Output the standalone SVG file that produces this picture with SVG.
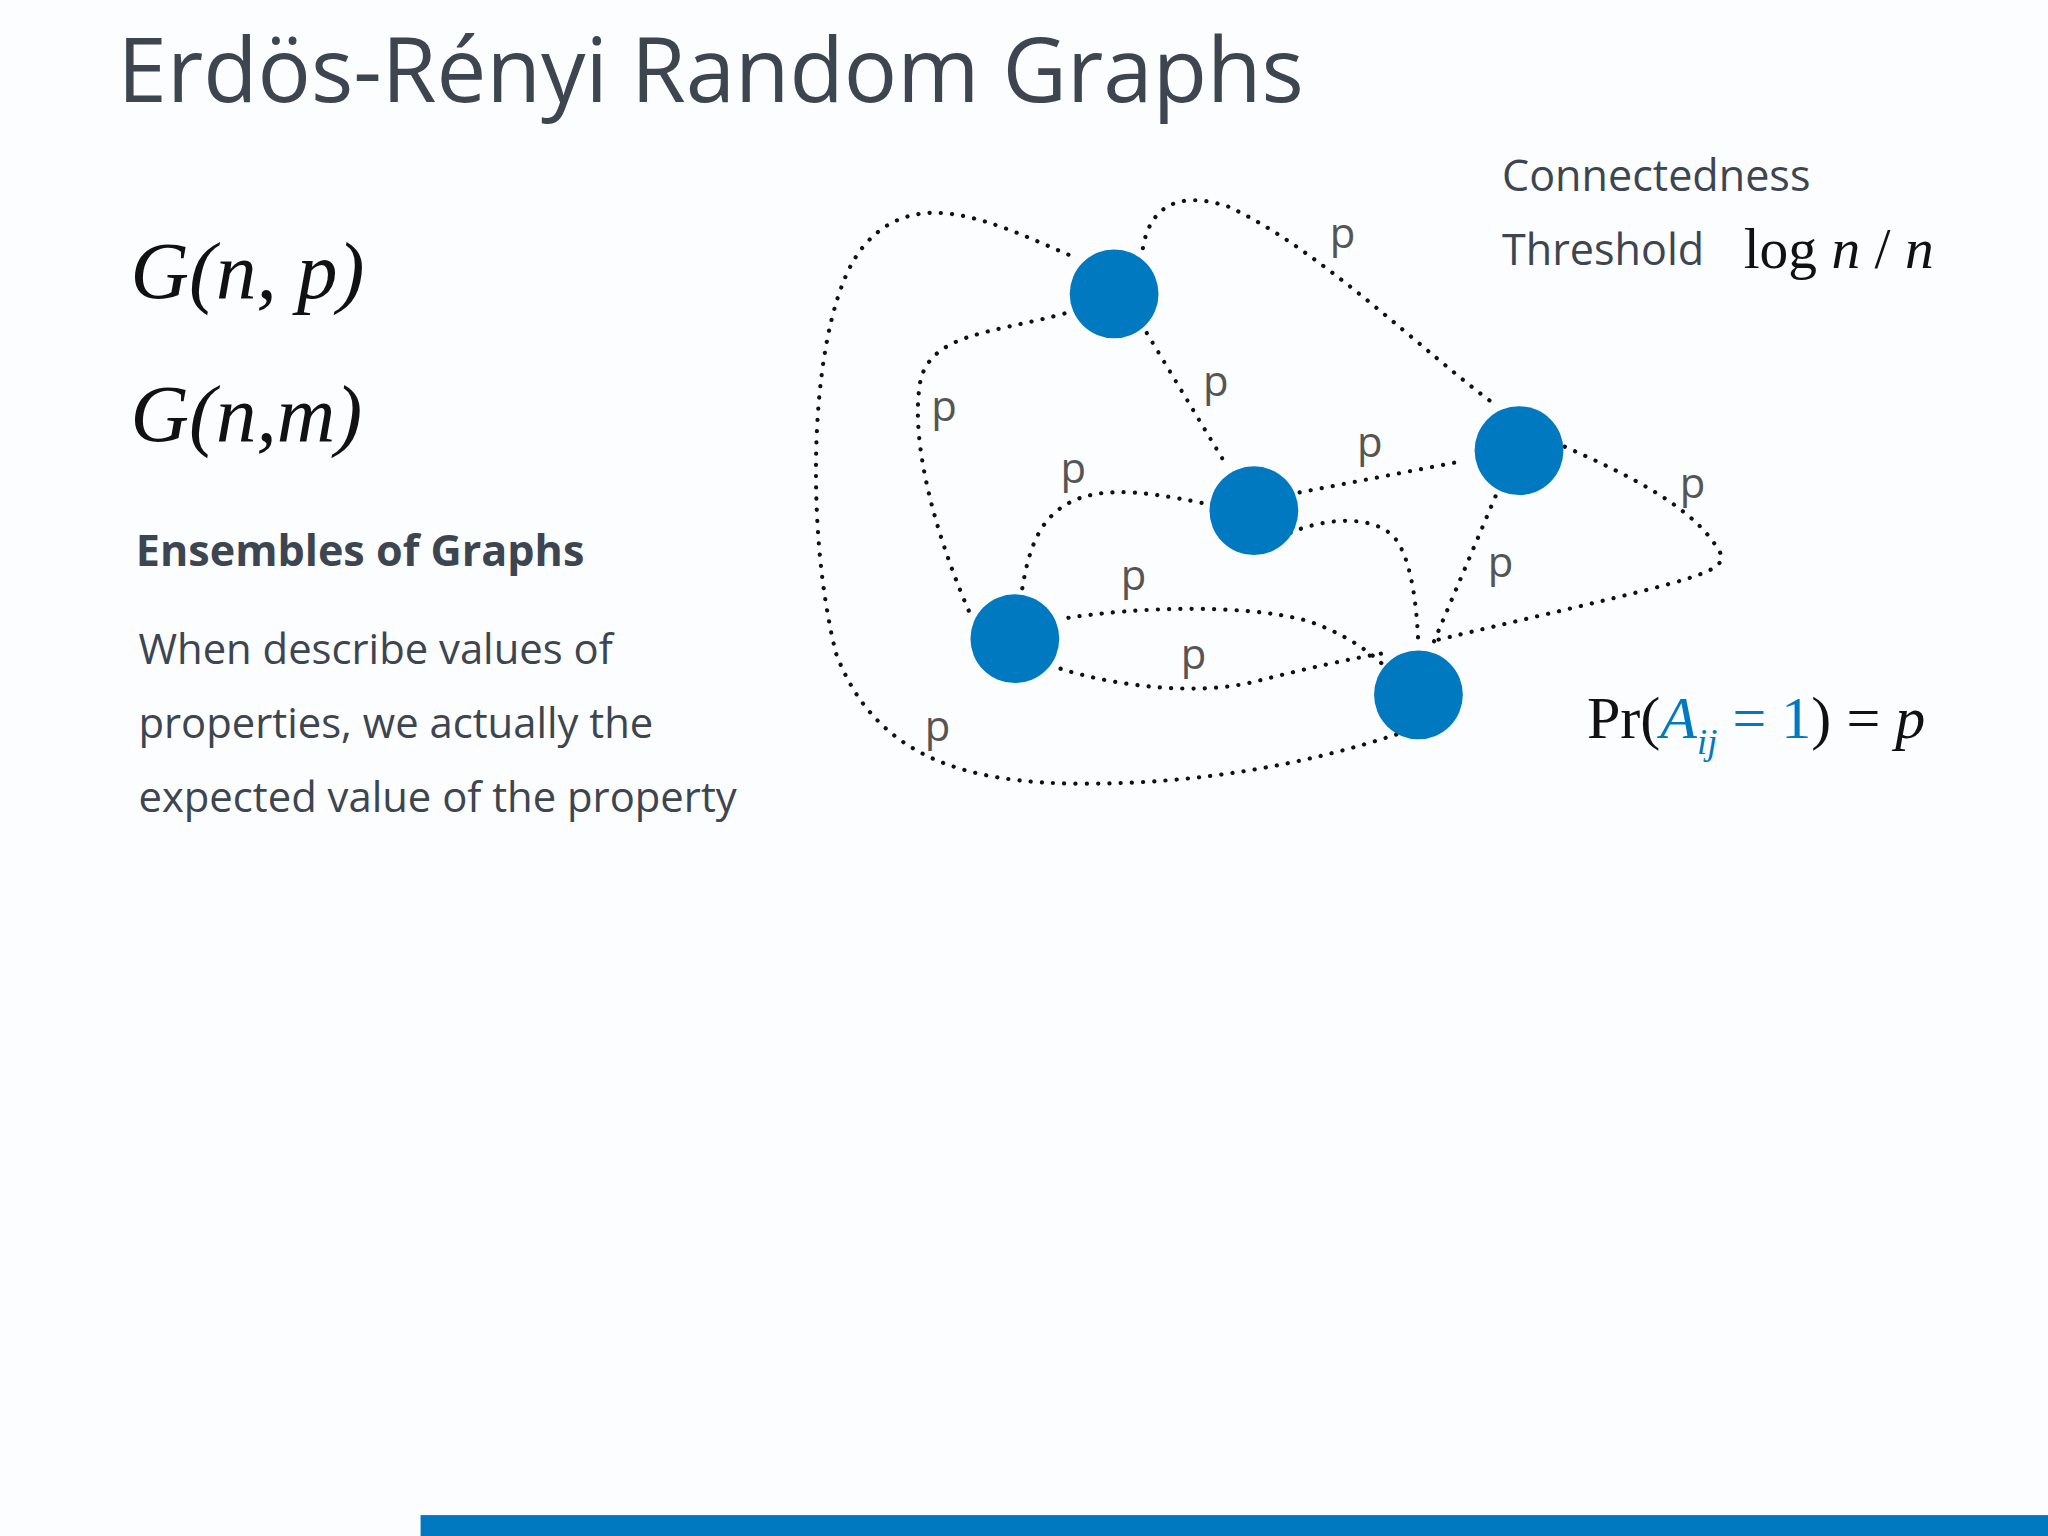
<svg xmlns="http://www.w3.org/2000/svg" width="2048" height="1536" viewBox="0 0 2048 1536">
<style>
.e{fill:none;stroke:#111;stroke-width:3.2;stroke-dasharray:0.1 8.5;stroke-linecap:round}
.n{fill:#0079c1}
.p{font-family:"Open Sans","Liberation Sans",sans-serif;font-size:32px;fill:#555}
.s{font-family:"Open Sans","Liberation Sans",sans-serif;fill:#3d4550}
.m{font-family:"Liberation Serif",serif;fill:#111}
</style>
<rect width="2048" height="1536" fill="#fcfdfe"/>
<g transform="scale(1.30612)">
<text class="s" x="90" y="78" font-size="68">Erdös-Rényi Random Graphs</text>
<text class="m" x="100" y="228" font-size="62" font-style="italic">G(n, p)</text>
<text class="m" x="100" y="338" font-size="62" font-style="italic">G(n,m)</text>
<text class="s" x="104" y="433" font-size="33" font-weight="bold">Ensembles of Graphs</text>
<g class="s" font-size="32" fill="#555"><text x="106" y="508">When describe values of</text><text x="106" y="565">properties, we actually the</text><text x="106" y="622">expected value of the property</text></g>
<text class="s" x="1150" y="146" font-size="33" fill="#555">Connectedness</text>
<text class="s" x="1150" y="203" font-size="33" fill="#555">Threshold</text>
<text class="m" x="1335" y="205" font-size="44">log <tspan font-style="italic">n</tspan> / <tspan font-style="italic">n</tspan></text>
<text class="m" x="1215" y="565" font-size="46">Pr(<tspan fill="#0079c1" font-style="italic">A</tspan><tspan fill="#0079c1" font-style="italic" font-size="28" dy="12">ij</tspan><tspan fill="#0079c1" dy="-12"> = 1</tspan>) = <tspan font-style="italic">p</tspan></text>
<g id="edges">
<path class="e" d="M815,240 C760,255 715,255 705,290 C695,340 720,420 745,475"/>
<path class="e" d="M818,195 C760,170 700,140 660,190 C620,240 615,400 640,500 C670,580 740,600 830,600 C920,600 1000,585 1070,562"/>
<path class="e" d="M875,190 C880,160 900,145 940,158 C1010,190 1090,270 1145,310"/>
<path class="e" d="M878,255 L940,358"/>
<path class="e" d="M995,377 L1120,353"/>
<path class="e" d="M920,385 C870,375 830,370 805,395 C790,410 785,435 782,455"/>
<path class="e" d="M988,408 C1010,398 1050,392 1068,412 C1082,430 1085,470 1086,495"/>
<path class="e" d="M1145,380 L1095,498"/>
<path class="e" d="M1198,342 C1250,365 1300,390 1318,425 C1320,440 1290,445 1100,490"/>
<path class="e" d="M818,473 C870,465 950,462 1000,475 C1030,485 1050,500 1060,510"/>
<path class="e" d="M812,512 C860,527 920,532 960,522 C1000,512 1030,505 1060,500"/>
</g>
<g id="labels">
<text class="p" x="713" y="322">p</text><text class="p" x="708" y="567">p</text><text class="p" x="1018" y="190">p</text><text class="p" x="921" y="303">p</text><text class="p" x="1039" y="350">p</text><text class="p" x="812" y="370">p</text><text class="p" x="1139" y="442">p</text><text class="p" x="1286" y="381">p</text><text class="p" x="858" y="452">p</text><text class="p" x="904" y="512">p</text>
</g>
<g id="nA"><circle class="n" cx="853" cy="225" r="34"/></g>
<g id="nB"><circle class="n" cx="960" cy="391" r="34"/></g>
<g id="nC"><circle class="n" cx="1163" cy="345" r="34"/></g>
<g id="nD"><circle class="n" cx="777" cy="489" r="34"/></g>
<g id="nE"><circle class="n" cx="1086" cy="532" r="34"/></g>
<rect x="322" y="1160" width="1250" height="20" fill="#0079c1"/>
</g>
</svg>
